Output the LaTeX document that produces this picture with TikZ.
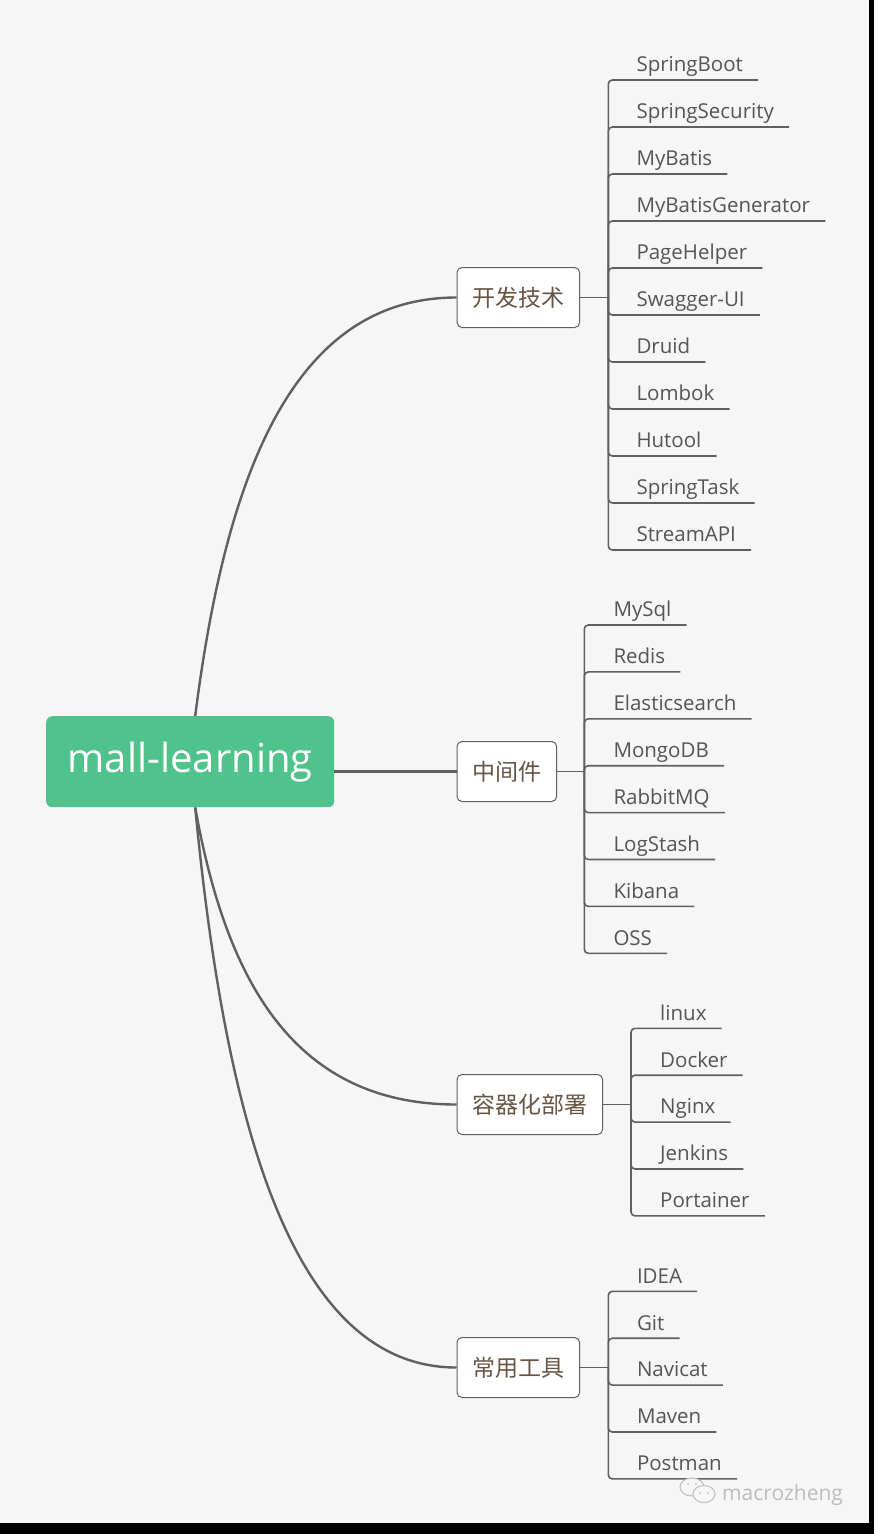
\documentclass[tikz,border=0pt]{standalone}
\usepackage{fontspec}
\setmainfont{Open Sans}
\newfontfamily\cjk{Noto Sans CJK SC}
\definecolor{bg}{HTML}{F6F6F6}
\definecolor{ln}{HTML}{606060}
\definecolor{tx}{HTML}{555555}
\definecolor{cn}{HTML}{665444}
\definecolor{grn}{HTML}{50C28C}
\definecolor{wm}{HTML}{BDBDBD}
\begin{document}
\begin{tikzpicture}[x=1pt,y=-1pt,
  conn/.style={draw=ln,line width=2.4pt},
  brk/.style={draw=ln,line width=1.6pt,rounded corners=4pt},
  rootbox/.style={fill=grn,rounded corners=6pt,minimum width=288pt,minimum height=91pt,inner sep=0pt,text=white,font=\fontsize{40}{48}\selectfont},
  branchbox/.style={draw=ln,line width=1pt,fill=white,rounded corners=5pt,minimum height=60pt,inner xsep=15.3pt,inner ysep=0pt,text=cn,font=\cjk\fontsize{23}{28}\selectfont},
  item/.style={anchor=south west,inner sep=0pt,text depth=8pt,text=tx,font=\fontsize{20.5}{24}\selectfont},
  wmbub/.style={draw=wm,line width=1pt,fill=bg},
]
\useasboundingbox (0,0) rectangle (874,1534);
\fill[bg] (0,0) rectangle (874,1534);
\fill[black] (869,0) rectangle (874,1534);
\fill[black] (0,1523) rectangle (874,1534);

% root
\node[rootbox,anchor=north west] (root) at (46,716) {\raisebox{-3pt}{mall-learning}};

% branches
\node[branchbox,anchor=west] (b1) at (456.5,297.5) {开发技术};
\node[branchbox,anchor=west] (b2) at (456.5,771.5) {中间件};
\node[branchbox,anchor=west] (b3) at (456.5,1104.5) {容器化部署};
\node[branchbox,anchor=west] (b4) at (456.5,1367.5) {常用工具};

% main connectors
\draw[conn] ([xshift=5pt]root.north) .. controls +(30,-236) and +(-166,0) .. (b1.west);
\draw[conn] (root.east |- b2.west) -- (b2.west);
\draw[conn] ([xshift=5pt]root.south) .. controls +(30,168) and +(-166,0) .. (b3.west);
\draw[conn] ([xshift=5pt]root.south) .. controls +(30,312) and +(-166,0) .. (b4.west);

% junctions
\coordinate (j1) at (608.3,297.5);
\coordinate (j2) at (584.3,771.5);
\coordinate (j3) at (631,1104.5);
\coordinate (j4) at (608.3,1367.5);
\draw[brk] (b1.east) -- (j1);
\draw[brk] (b2.east) -- (j2);
\draw[brk] (b3.east) -- (j3);
\draw[brk] (b4.east) -- (j4);

% group 1
\foreach \t [count=\k from 0] in {SpringBoot,SpringSecurity,MyBatis,MyBatisGenerator,PageHelper,Swagger-UI,Druid,Lombok,Hutool,SpringTask,StreamAPI}{
  \node[item] (a\k) at (608.3,{80+47*\k}) {\hspace*{28pt}\t\hspace*{15pt}};
  \draw[brk] (j1) |- (a\k.south east);
}
% group 2
\foreach \t [count=\k from 0] in {MySql,Redis,Elasticsearch,MongoDB,RabbitMQ,LogStash,Kibana,OSS}{
  \node[item] (m\k) at (584.3,{625+46.9*\k}) {\hspace*{29pt}\t\hspace*{15pt}};
  \draw[brk] (j2) |- (m\k.south east);
}
% group 3
\foreach \t [count=\k from 0] in {linux,Docker,Nginx,Jenkins,Portainer}{
  \node[item] (c\k) at (631,{1028.3+46.9*\k}) {\hspace*{29pt}\t\hspace*{15pt}};
  \draw[brk] (j3) |- (c\k.south east);
}
% group 4
\foreach \t [count=\k from 0] in {IDEA,Git,Navicat,Maven,Postman}{
  \node[item] (d\k) at (608.3,{1291.3+46.9*\k}) {\hspace*{28.5pt}\t\hspace*{15pt}};
  \draw[brk] (j4) |- (d\k.south east);
}

% watermark
\draw[wmbub] (692,1487) ellipse [x radius=12pt,y radius=9pt];
\draw[wmbub] (704,1494) ellipse [x radius=11pt,y radius=8.5pt];
\fill[wm] (688,1484) circle (1pt) (696,1484) circle (1pt) (700,1493) circle (1pt) (708,1493) circle (1pt);
\node[anchor=base west,inner sep=0pt,text=wm,font=\fontsize{21}{24}\selectfont] (wmt) at (722,1500) {macrozheng};
\end{tikzpicture}
\end{document}
